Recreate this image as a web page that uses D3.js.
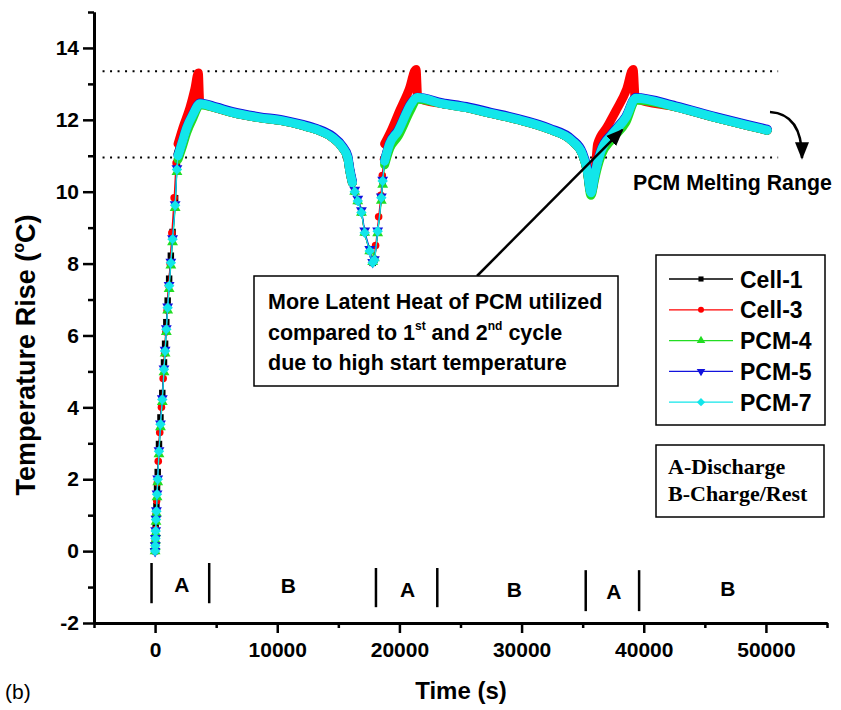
<!DOCTYPE html>
<html>
<head>
<meta charset="utf-8">
<script src="https://cdn.jsdelivr.net/npm/d3@7"></script>
<style>
  body { margin: 0; background: #fff; }
  svg text { font-family: 'Liberation Sans', Arial, Helvetica, sans-serif; }
</style>
</head>
<body>
<div id="chart"></div>
<script>
// time stamps (s) shared by Cell-1 and the PCM sensors
const tPCM = [0,15,30,50,75,110,160,215,320,440,590,730,820,920,1030,1150,1290,1430,1640,1790,
  1880,2200,2590,3100,3680,
  5000,6370,8500,10460,12000,13210,14540,15360,15770,15930,16150,
  16340,16590,16890,17160,17570,17810,17950,18220,18520,18630,18790,
  19200,19900,20950,21450,
  23500,25470,27500,29550,32270,34150,34970,35380,35680,
  35950,36190,36500,37420,38530,39350,
  42620,45890,48610,50110];

// temperature rise (C)
const cell1T = [0,0.25,0.45,0.7,1.0,1.25,1.75,2.2,2.98,3.72,4.4,5.25,5.77,6.37,6.97,7.58,8.22,8.88,9.82,10.8,
  11.05,11.4,11.8,12.17,12.45,
  12.33,12.2,12.06,11.97,11.85,11.73,11.5,11.22,10.95,10.6,10.25,
  10.0,9.74,9.42,8.86,8.35,8.02,8.1,8.9,9.83,10.3,10.85,
  11.33,11.69,12.44,12.6,
  12.45,12.34,12.18,12.02,11.74,11.41,11.05,10.58,9.97,
  10.4,10.77,11.13,11.6,12.06,12.58,
  12.36,12.06,11.83,11.71];

const pcm4T = [0,0.12,0.3,0.5,0.82,1.05,1.5,1.92,2.7,3.45,4.15,4.98,5.5,6.1,6.7,7.3,7.95,8.6,9.55,10.55,
  10.9,11.22,11.65,12.05,12.42,
  12.33,12.2,12.06,11.97,11.85,11.73,11.5,11.22,10.95,10.6,10.25,
  10.0,9.74,9.42,8.86,8.35,8.05,8.15,8.85,9.75,10.2,10.75,
  11.2,11.55,12.3,12.58,
  12.45,12.34,12.18,12.02,11.74,11.41,11.05,10.55,9.9,
  10.3,10.65,11.0,11.47,11.93,12.55,
  12.36,12.06,11.83,11.71];

const pcm5T = [0,0.16,0.36,0.58,0.9,1.13,1.6,2.02,2.8,3.55,4.25,5.08,5.6,6.2,6.8,7.4,8.05,8.7,9.65,10.65,
  11.02,11.37,11.8,12.17,12.47,
  12.36,12.23,12.09,12.0,11.88,11.76,11.54,11.26,11.0,10.66,10.3,
  10.05,9.8,9.48,8.92,8.4,8.04,8.12,8.92,9.86,10.33,10.88,
  11.36,11.72,12.46,12.63,
  12.48,12.37,12.21,12.05,11.77,11.45,11.1,10.64,10.0,
  10.42,10.8,11.16,11.63,12.09,12.62,
  12.39,12.09,11.86,11.74];

const pcm7T = [0,0.15,0.35,0.56,0.88,1.11,1.58,2.0,2.78,3.53,4.22,5.06,5.57,6.17,6.77,7.38,8.02,8.68,9.62,10.62,
  11.0,11.35,11.78,12.15,12.45,
  12.33,12.2,12.06,11.97,11.85,11.73,11.5,11.22,10.95,10.6,10.25,
  10.0,9.74,9.42,8.86,8.35,8.02,8.1,8.9,9.83,10.3,10.85,
  11.33,11.69,12.44,12.62,
  12.45,12.34,12.18,12.02,11.74,11.41,11.05,10.58,9.97,
  10.4,10.77,11.13,11.6,12.06,12.6,
  12.36,12.06,11.83,11.71];

// Cell-3 has its own time stamps (it overshoots)
const tCell3 = [0,20,45,80,130,190,260,380,520,660,780,880,990,1100,1230,1370,1560,1720,
  1880,2300,2860,3250,3540,3650,
  5000,6370,8500,10460,12000,13210,14540,15360,15770,15930,16150,
  16340,16590,16890,17160,17570,17810,18050,18300,18480,18600,18700,
  18790,19400,20020,20800,21360,21500,
  23500,25470,27500,29550,32270,34150,34970,35380,35680,35950,36100,
  36220,37000,37720,38600,39130,39300,
  42620,45890,48610,50110];
const cell3T = [0,0.3,0.6,1.0,1.4,1.9,2.5,3.3,4.0,4.8,5.5,6.1,6.7,7.4,8.0,8.85,9.83,10.8,
  11.33,11.8,12.34,12.85,13.3,12.5,
  12.33,12.2,12.06,11.97,11.85,11.73,11.5,11.22,10.95,10.6,10.25,
  10.0,9.74,9.42,8.86,8.35,8.05,8.5,9.3,9.9,10.45,10.9,
  11.33,11.75,12.25,12.85,13.4,12.6,
  12.45,12.34,12.18,12.02,11.74,11.41,11.05,10.58,9.97,10.4,10.9,
  11.32,11.8,12.25,12.85,13.4,12.6,
  12.36,12.06,11.83,11.71];

// time spans where the logger points are so dense they form a solid band
const denseSpans = [[1850, 16200], [18750, 50200]];

const meltRange = [10.95, 13.35];

const phaseBounds = [-290, 4430, 18080, 23100, 35250, 39620];
const phaseTop    = [-0.33, -0.33, -0.47, -0.47, -0.53, -0.53];
const phaseBottom = [-1.45, -1.45, -1.56, -1.56, -1.67, -1.67];
const phaseNames  = ["A", "B", "A", "B", "A", "B"];
const phaseMid    = [2200, 10900, 20670, 29400, 37550, 46880];
const phaseBase   = [-1.14, -1.17, -1.28, -1.28, -1.33, -1.25];

const xMajor = [0, 10000, 20000, 30000, 40000, 50000];
const xMinor = [-5000, 5000, 15000, 25000, 35000, 45000, 55000];
const yMajor = [-2, 0, 2, 4, 6, 8, 10, 12, 14];
const yMinor = [-1, 1, 3, 5, 7, 9, 11, 13, 15];

const series = [
  {name: "Cell-1", color: "#000000", sym: "square",  t: tPCM,   v: cell1T},
  {name: "Cell-3", color: "#ff0000", sym: "circle",  t: tCell3, v: cell3T},
  {name: "PCM-4",  color: "#22dd22", sym: "triUp",   t: tPCM,   v: pcm4T},
  {name: "PCM-5",  color: "#1212dd", sym: "triDown", t: tPCM,   v: pcm5T},
  {name: "PCM-7",  color: "#12e6ea", sym: "diamond", t: tPCM,   v: pcm7T}
];

const W = 841, H = 710;
const svg = d3.select("#chart").append("svg")
  .attr("width", W).attr("height", H);

const x = d3.scaleLinear().domain([-5000, 55000]).range([94, 827]);
const y = d3.scaleLinear().domain([-2, 15]).range([623, 12]);

// marker shapes
function symbolPath(sym, big) {
  const k = big ? 1.6 : 1;
  if (sym === "square")  return d3.symbol(d3.symbolSquare, 26 * k)();
  if (sym === "circle")  return d3.symbol(d3.symbolCircle, 28 * k)();
  if (sym === "triUp" || sym === "triDown") return d3.symbol(d3.symbolTriangle, 32 * k)();
  return d3.symbol(d3.symbolSquare, 34 * k)();
}
function symbolRot(sym) {
  if (sym === "triDown") return 180;
  if (sym === "diamond") return 45;
  return 0;
}

function inDense(t) {
  return denseSpans.some(s => t >= s[0] && t <= s[1]);
}

// plain hyphen for negative tick labels
const fmt = d => String(d).replace("\u2212", "-");

// melting range dotted lines
svg.append("g").selectAll("line")
  .data(meltRange)
  .enter().append("line")
  .attr("x1", x(-4300)).attr("x2", x(51000))
  .attr("y1", d => y(d)).attr("y2", d => y(d))
  .attr("stroke", "#000")
  .attr("stroke-width", 2)
  .attr("stroke-dasharray", "2,5.5");

// series
const line = d3.line().x(d => x(d[0])).y(d => y(d[1])).curve(d3.curveMonotoneX);

series.forEach(function(s) {
  const pts = s.t.map((tt, i) => [tt, s.v[i]]);
  const g = svg.append("g");

  g.append("path")
    .attr("d", line(pts))
    .attr("fill", "none")
    .attr("stroke", s.color)
    .attr("stroke-width", 1.2);

  denseSpans.forEach(function(span) {
    const sub = pts.filter(p => p[0] >= span[0] && p[0] <= span[1]);
    g.append("path")
      .attr("d", line(sub))
      .attr("fill", "none")
      .attr("stroke", s.color)
      .attr("stroke-width", 9)
      .attr("stroke-linejoin", "round")
      .attr("stroke-linecap", "round");
  });

  g.selectAll("path.mk")
    .data(pts.filter(p => !inDense(p[0])))
    .enter().append("path")
    .attr("class", "mk")
    .attr("d", symbolPath(s.sym, true))
    .attr("transform", d => `translate(${x(d[0])},${y(d[1])}) rotate(${symbolRot(s.sym)})`)
    .attr("fill", s.color);
});

// axes
function styleAxis(g) {
  g.select(".domain").attr("stroke-width", 3);
  g.selectAll(".tick line").attr("stroke-width", 2.5);
  g.selectAll("text").attr("font-size", 21).attr("font-weight", "bold")
    .attr("font-family", "'Liberation Sans', Arial, sans-serif").attr("fill", "#000");
}

svg.append("g")
  .attr("transform", `translate(0,${y(-2)})`)
  .call(d3.axisBottom(x).tickValues(xMinor).tickSize(5).tickSizeOuter(0).tickFormat(""))
  .call(styleAxis);
svg.append("g")
  .attr("transform", `translate(0,${y(-2)})`)
  .call(d3.axisBottom(x).tickValues(xMajor).tickSize(10).tickPadding(9).tickSizeOuter(0).tickFormat(fmt))
  .call(styleAxis);

svg.append("g")
  .attr("transform", `translate(${x(-5000)},0)`)
  .call(d3.axisLeft(y).tickValues(yMinor).tickSize(6).tickSizeOuter(0).tickFormat(""))
  .call(styleAxis);
svg.append("g")
  .attr("transform", `translate(${x(-5000)},0)`)
  .call(d3.axisLeft(y).tickValues(yMajor).tickSize(11).tickPadding(4).tickSizeOuter(0).tickFormat(fmt))
  .call(styleAxis);

// axis titles
svg.append("text")
  .attr("x", 461).attr("y", 699)
  .attr("text-anchor", "middle")
  .attr("font-size", 24).attr("font-weight", "bold")
  .text("Time (s)");

const yt = svg.append("text")
  .attr("transform", "translate(35,355) rotate(-90)")
  .attr("text-anchor", "middle")
  .attr("font-size", 27).attr("font-weight", "bold");
yt.append("tspan").text("Temperature Rise (");
yt.append("tspan").attr("font-size", 16).attr("dy", -11).text("o");
yt.append("tspan").attr("dy", 11).text("C)");

svg.append("text")
  .attr("x", 5).attr("y", 699)
  .attr("font-size", 21)
  .text("(b)");

// phase markers
svg.append("g").selectAll("line")
  .data(phaseBounds)
  .enter().append("line")
  .attr("x1", d => x(d)).attr("x2", d => x(d))
  .attr("y1", (d, i) => y(phaseTop[i])).attr("y2", (d, i) => y(phaseBottom[i]))
  .attr("stroke", "#000").attr("stroke-width", 2.5);

svg.append("g").selectAll("text")
  .data(phaseNames)
  .enter().append("text")
  .attr("x", (d, i) => x(phaseMid[i]))
  .attr("y", (d, i) => y(phaseBase[i]))
  .attr("text-anchor", "middle")
  .attr("font-size", 21).attr("font-weight", "bold")
  .text(d => d);

// PCM melting range label + curved arrow
svg.append("defs").append("marker")
  .attr("id", "ah")
  .attr("viewBox", "0 0 10 10")
  .attr("refX", 9).attr("refY", 5)
  .attr("markerWidth", 7).attr("markerHeight", 7)
  .attr("orient", "auto-start-reverse")
  .append("path").attr("d", "M0,1 L10,5 L0,9 z").attr("fill", "#000");

svg.append("path")
  .attr("d", "M770,112 Q802,114 802,158")
  .attr("fill", "none").attr("stroke", "#000").attr("stroke-width", 2.5)
  .attr("marker-end", "url(#ah)");

svg.append("text")
  .attr("x", 633).attr("y", 190)
  .attr("font-size", 21.3).attr("font-weight", "bold")
  .text("PCM Melting Range");

// annotation box
svg.append("line")
  .attr("x1", 477).attr("y1", 276)
  .attr("x2", x(38240)).attr("y2", y(11.72))
  .attr("stroke", "#000").attr("stroke-width", 2.5)
  .attr("marker-end", "url(#ah)");

svg.append("rect")
  .attr("x", 254).attr("y", 276).attr("width", 364).attr("height", 110)
  .attr("fill", "#fff").attr("stroke", "#000").attr("stroke-width", 1.5);

const note = svg.append("g").attr("font-size", 21.5).attr("font-weight", "bold");
note.append("text").attr("x", 268).attr("y", 309).text("More Latent Heat of PCM utilized");
const n2 = note.append("text").attr("x", 268).attr("y", 340);
n2.append("tspan").text("compared to 1");
n2.append("tspan").attr("font-size", 12).attr("dy", -10).text("st");
n2.append("tspan").attr("dy", 10).text(" and 2");
n2.append("tspan").attr("font-size", 12).attr("dy", -10).text("nd");
n2.append("tspan").attr("dy", 10).text(" cycle");
note.append("text").attr("x", 268).attr("y", 370).text("due to high start temperature");

// legend
const lg = svg.append("g");
lg.append("rect")
  .attr("x", 656).attr("y", 255).attr("width", 169).attr("height", 170)
  .attr("fill", "#fff").attr("stroke", "#000").attr("stroke-width", 1.5);

series.forEach(function(s, i) {
  const ry = 279 + i * 30.8;
  lg.append("line")
    .attr("x1", 669).attr("x2", 733).attr("y1", ry).attr("y2", ry)
    .attr("stroke", s.color).attr("stroke-width", 1.3);
  lg.append("path")
    .attr("d", symbolPath(s.sym, false))
    .attr("transform", `translate(701,${ry}) rotate(${symbolRot(s.sym)})`)
    .attr("fill", s.color);
  lg.append("text")
    .attr("x", 740).attr("y", ry + 8.5)
    .attr("font-size", 23).attr("font-weight", "bold")
    .text(s.name);
});

// A/B key box
svg.append("rect")
  .attr("x", 656).attr("y", 445).attr("width", 168).attr("height", 72)
  .attr("fill", "#fff").attr("stroke", "#000").attr("stroke-width", 1.5);
const key = svg.append("g")
  .attr("font-size", 22).attr("font-weight", "bold");
key.append("text").attr("x", 668).attr("y", 474)
  .style("font-family", "'Liberation Serif', 'Times New Roman', serif")
  .text("A-Discharge");
key.append("text").attr("x", 668).attr("y", 501)
  .style("font-family", "'Liberation Serif', 'Times New Roman', serif")
  .text("B-Charge/Rest");
</script>
</body>
</html>
